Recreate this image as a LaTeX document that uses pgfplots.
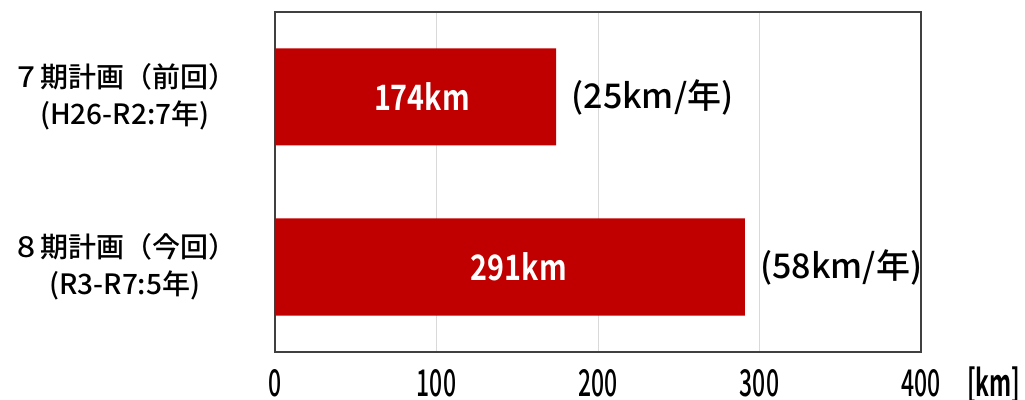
\documentclass[border=0pt]{standalone}
\usepackage{pgfplots}
\pgfplotsset{compat=1.18}
\usepackage{fontspec}
\setmainfont{Noto Sans CJK JP}[UprightFont=* Medium, BoldFont=* Bold]
\newfontfamily\tickfont{Noto Sans CJK JP}[FakeStretch=0.62, UprightFont=* Medium, BoldFont=* Bold]
\newfontfamily\inlabfont{Noto Sans CJK JP}[FakeStretch=0.82, UprightFont=* Bold]
\definecolor{barred}{HTML}{C00000}
\begin{document}
\begin{tikzpicture}
\useasboundingbox (-275pt,-47pt) rectangle (750pt,352pt);
\begin{axis}[
  at={(0,0)}, anchor=south west,
  scale only axis, width=646pt, height=340pt,
  xbar, bar width=97pt,
  xmin=0, xmax=400, ymin=-0.5, ymax=1.5,
  xtick={0,100,200,300,400},
  ytick={0,1},
  yticklabels={{８期計画（今回）\\(R3-R7:5年)},{７期計画（前回）\\(H26-R2:7年)}},
  yticklabel style={align=center, font=\fontsize{28}{37}\selectfont, inner sep=0pt, anchor=east, xshift=-38pt},
  xticklabel style={font=\tickfont\fontsize{37}{40}\selectfont, anchor=base, inner sep=0pt, yshift=-44pt},
  /pgf/number format/assume math mode=true,
  major tick length=0pt,
  axis line style={draw=black!75, line width=1.2pt},
  xmajorgrids, grid style={draw=black!15, line width=0.8pt},
  clip=false,
]
\addplot[fill=barred, draw=none,
  nodes near coords, point meta=explicit symbolic,
  nodes near coords style={anchor=west, font=\fontsize{34}{38}\selectfont, text=black, xshift=12pt}]
  table[x=x, y=y, meta=lab] {
x y lab
291 0 (58km/年)
174 1 (25km/年)
};
\node[text=white, font=\inlabfont\fontsize{35}{38}\selectfont] at (axis cs:91,1) {174km};
\node[text=white, font=\inlabfont\fontsize{35}{38}\selectfont] at (axis cs:151,0) {291km};
\node[anchor=base west, font=\tickfont\bfseries\fontsize{37}{40}\selectfont, inner sep=0pt] at ([xshift=46pt,yshift=-44pt]rel axis cs:1,0) {[km]};
\end{axis}
\end{tikzpicture}
\end{document}
